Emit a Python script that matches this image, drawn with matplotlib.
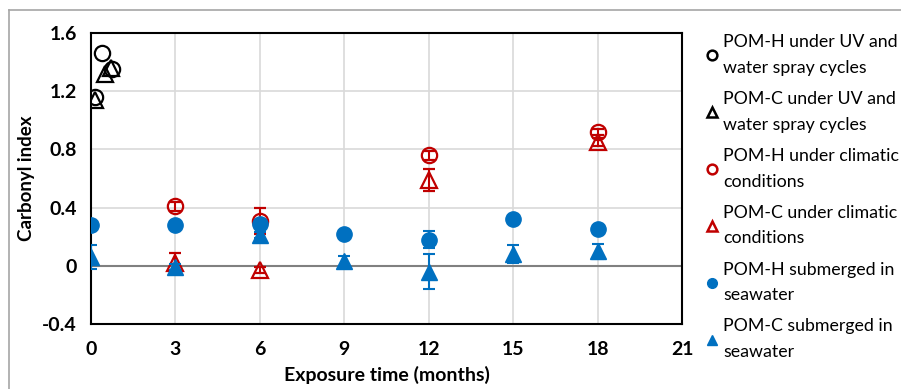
import matplotlib
matplotlib.use('Agg')
import matplotlib.pyplot as plt
from matplotlib.lines import Line2D
import numpy as np

plt.rcParams['font.family'] = ['Lato', 'DejaVu Sans']

# exposure time (months) and carbonyl index
uv_h_x = [0.15, 0.4, 0.75]
uv_h_y = [1.16, 1.46, 1.35]
uv_c_x = [0.15, 0.5, 0.7]
uv_c_y = [1.14, 1.32, 1.36]

clim_x = [3, 6, 12, 18]
clim_h_y = [0.41, 0.31, 0.76, 0.92]
clim_h_err = [0.03, 0.09, 0.03, 0.02]
clim_c_y = [0.02, -0.03, 0.59, 0.85]
clim_c_err = [0.07, 0.02, 0.075, 0.03]

sea_x = [0, 3, 6, 9, 12, 15, 18]
sea_h_y = [0.28, 0.28, 0.29, 0.22, 0.18, 0.32, 0.25]
sea_h_err = [0.02, 0.02, 0.02, 0.02, 0.06, 0.02, 0.02]
sea_c_y = [0.06, -0.01, 0.21, 0.03, -0.04, 0.08, 0.10]
sea_c_err = [0.08, 0.02, 0.02, 0.04, 0.12, 0.06, 0.05]

labels = ['POM-H under UV and\nwater spray cycles',
          'POM-C under UV and\nwater spray cycles',
          'POM-H under climatic\nconditions',
          'POM-C under climatic\nconditions',
          'POM-H submerged in\nseawater',
          'POM-C submerged in\nseawater']

red = '#C00000'
blue = '#0070C0'

fig = plt.figure(figsize=(9.01, 3.89), dpi=100)
ax = fig.add_axes([91 / 901, 1 - 324 / 389, (682 - 91) / 901, (324 - 33) / 389])

ms = 11
ew = 1.6
ax.plot(uv_h_x, uv_h_y, 'o', ms=ms, mfc='none', mec='black', mew=ew, zorder=3)
ax.plot(uv_c_x, uv_c_y, '^', ms=ms, mfc='none', mec='black', mew=ew, zorder=3)
ax.errorbar(clim_x, clim_h_y, yerr=clim_h_err, fmt='o', ms=ms, mfc='none', mec=red, mew=ew,
            ecolor=red, elinewidth=1.5, capsize=4, capthick=1.5, zorder=3)
ax.errorbar(clim_x, clim_c_y, yerr=clim_c_err, fmt='^', ms=ms, mfc='none', mec=red, mew=ew,
            ecolor=red, elinewidth=1.5, capsize=4, capthick=1.5, zorder=3)
ax.errorbar(sea_x, sea_h_y, yerr=sea_h_err, fmt='o', ms=ms, color=blue,
            ecolor=blue, elinewidth=1.5, capsize=4, capthick=1.5, zorder=4)
ax.errorbar(sea_x, sea_c_y, yerr=sea_c_err, fmt='^', ms=ms, color=blue,
            ecolor=blue, elinewidth=1.5, capsize=4, capthick=1.5, zorder=4)

ax.axhline(0, color='#808080', lw=1.5, zorder=2)

ax.set_xlim(0, 21)
ax.set_ylim(-0.4, 1.6)
ax.set_xticks(np.arange(0, 22, 3))
ax.set_yticks([-0.4, 0, 0.4, 0.8, 1.2, 1.6])
ax.set_yticklabels(['-0.4', '0', '0.4', '0.8', '1.2', '1.6'])
ax.grid(True, color='#d9d9d9', lw=1.2, zorder=0)
ax.set_axisbelow(True)
ax.tick_params(axis='x', length=0, labelsize=14, pad=12)
ax.tick_params(axis='y', length=0, labelsize=14, pad=10)
for t in ax.get_xticklabels() + ax.get_yticklabels():
    t.set_fontweight('bold')
for s in ax.spines.values():
    s.set_linewidth(1.5)
    s.set_color('black')

ax.set_xlabel('Exposure time (months)', fontsize=14, fontweight='bold', labelpad=6)
ax.set_ylabel('Carbonyl index', fontsize=13.5, fontweight='bold', labelpad=5)

handles = [
    Line2D([], [], ls='none', marker='o', ms=7, mfc='none', mec='black', mew=1.8),
    Line2D([], [], ls='none', marker='^', ms=7, mfc='none', mec='black', mew=1.8),
    Line2D([], [], ls='none', marker='o', ms=7, mfc='none', mec=red, mew=1.8),
    Line2D([], [], ls='none', marker='^', ms=7, mfc='none', mec=red, mew=1.8),
    Line2D([], [], ls='none', marker='o', ms=7, color=blue),
    Line2D([], [], ls='none', marker='^', ms=7, color=blue),
]
leg = fig.legend(handles, labels, loc='upper left', bbox_to_anchor=(700 / 901, 1 - 27 / 389),
                 frameon=False, fontsize=12.8, handlelength=0.6, handletextpad=0.3,
                 labelspacing=0.85, borderaxespad=0)
for t in leg.get_texts():
    t.set_linespacing(1.75)

# outer chart border
fig.add_artist(Line2D([9 / 901, 1], [1 - 10 / 389, 1 - 10 / 389], transform=fig.transFigure,
                      color='#a6a6a6', lw=1.2))
fig.add_artist(Line2D([9 / 901, 9 / 901], [0, 1 - 10 / 389], transform=fig.transFigure,
                      color='#a6a6a6', lw=1.2))

fig.savefig('out.png', dpi=100)
